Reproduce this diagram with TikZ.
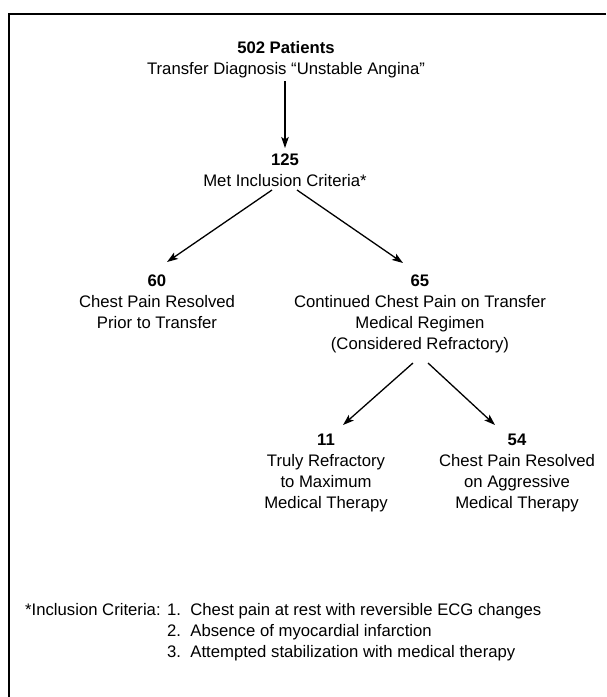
\documentclass[tikz,border=0pt]{standalone}
\usepackage{fontspec}
\setmainfont{Liberation Sans}
\usetikzlibrary{arrows.meta}
\tikzset{
  blk/.style={anchor=base, inner sep=0pt, font=\fontsize{16.7}{21.3}\selectfont},
  note/.style={anchor=base west, inner sep=0pt, font=\fontsize{16.7}{21.3}\selectfont},
  arr/.style={-{Stealth[length=11pt,width=7.5pt,inset=2.5pt]}, line width=1.3pt},
  frameline/.style={line width=1.6pt}
}
\begin{document}
\begin{tikzpicture}[x=1pt,y=1pt]
\useasboundingbox (0,0) rectangle (606,-697);
% frame
\coordinate (fTR) at (606,-14);
\coordinate (fTL) at (9,-14);
\coordinate (fBL) at (9,-697);
\draw[frameline] (fTR) -- (fTL) -- (fBL);

% blocks
\node[blk] (a) at (286,-53) {\begin{tabular}[t]{@{}c@{}}\textbf{502 Patients}\\Transfer Diagnosis “Unstable Angina”\end{tabular}};
\node[blk] (b) at (285,-165) {\begin{tabular}[t]{@{}c@{}}\textbf{125}\\Met Inclusion Criteria*\end{tabular}};
\node[blk] (c) at (157,-286) {\begin{tabular}[t]{@{}c@{}}\textbf{60}\\Chest Pain Resolved\\Prior to Transfer\end{tabular}};
\node[blk] (d) at (420,-286) {\begin{tabular}[t]{@{}c@{}}\textbf{65}\\Continued Chest Pain on Transfer\\Medical Regimen\\(Considered Refractory)\end{tabular}};
\node[blk] (e) at (326,-445) {\begin{tabular}[t]{@{}c@{}}\textbf{11}\\Truly Refractory\\to Maximum\\Medical Therapy\end{tabular}};
\node[blk] (f) at (517,-445) {\begin{tabular}[t]{@{}c@{}}\textbf{54}\\Chest Pain Resolved\\on Aggressive\\Medical Therapy\end{tabular}};

% footnote
\node[note] (fnlabel) at (25,-615) {*Inclusion Criteria:};
\node[note] (fnlist) at (167,-615) {\begin{tabular}[t]{@{}l@{}}1.\ \ Chest pain at rest with reversible ECG changes\\2.\ \ Absence of myocardial infarction\\3.\ \ Attempted stabilization with medical therapy\end{tabular}};

% arrow end points
\coordinate (a1) at (285,-81);
\coordinate (b0) at (285,-148);
\coordinate (b1) at (272,-190);
\coordinate (c0) at (167,-262);
\coordinate (b2) at (297,-190);
\coordinate (d0) at (403,-263);
\coordinate (d1) at (413,-363);
\coordinate (e0) at (343,-425);
\coordinate (d2) at (428,-363);
\coordinate (f0) at (495,-425);

\draw[arr] (a1) -- (b0);
\draw[arr] (b1) -- (c0);
\draw[arr] (b2) -- (d0);
\draw[arr] (d1) -- (e0);
\draw[arr] (d2) -- (f0);
\end{tikzpicture}
\end{document}
